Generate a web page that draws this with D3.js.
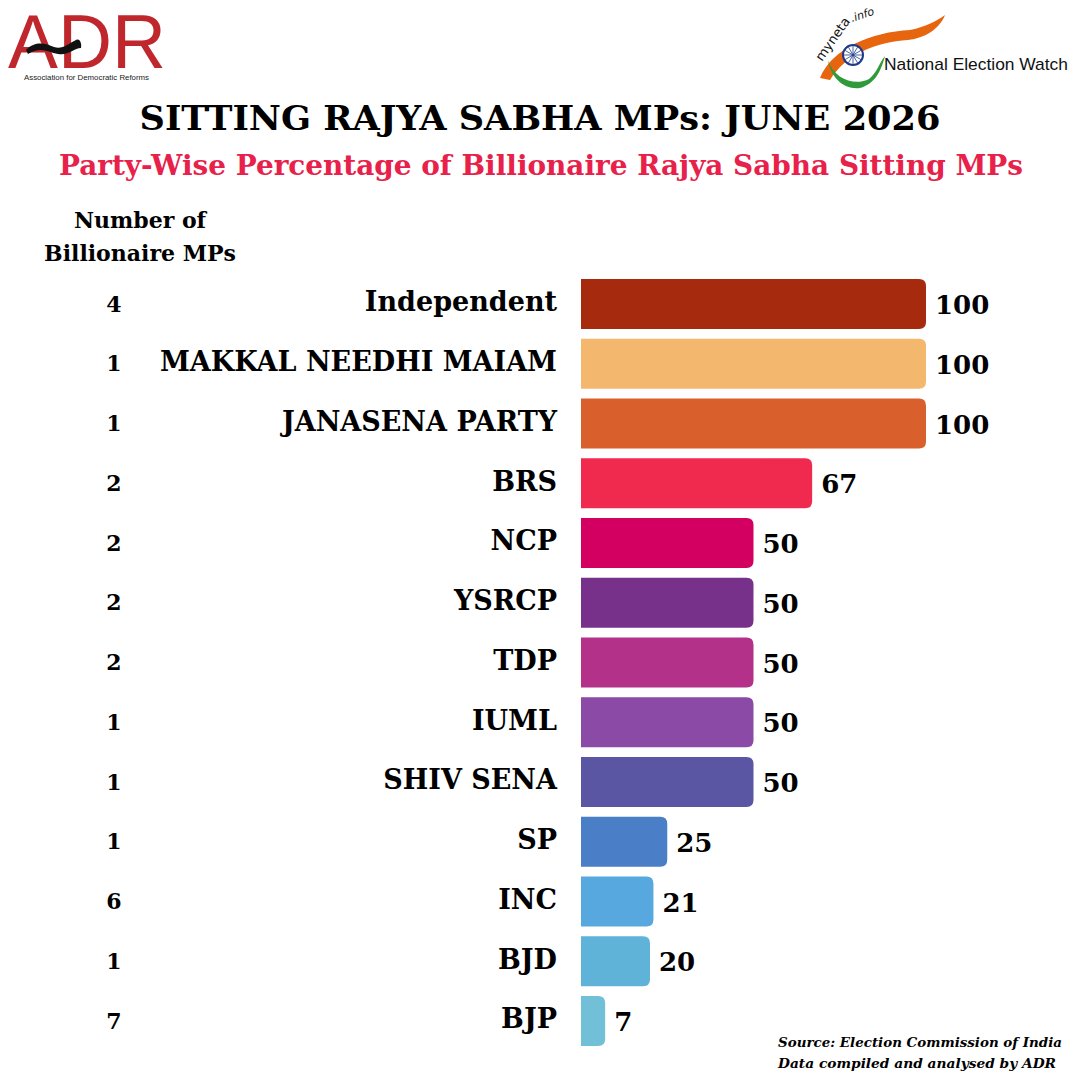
<!DOCTYPE html>
<html><head><meta charset="utf-8">
<script src="https://cdn.jsdelivr.net/npm/d3@7"></script>
<style>html,body{margin:0;padding:0;background:#fff;}svg{display:block;}</style>
</head><body>
<script>
const parties = ["Independent","MAKKAL NEEDHI MAIAM","JANASENA PARTY","BRS","NCP","YSRCP","TDP","IUML","SHIV SENA","SP","INC","BJD","BJP"];
const percentages = [100,100,100,67,50,50,50,50,50,25,21,20,7];
const billionaireCounts = [4,1,1,2,2,2,2,1,1,1,6,1,7];
const barColors = ["#a52a0e","#f3b86e","#d9602c","#f0294f","#d30062","#78318a","#b4318a","#8b4aa5","#5a56a4","#4a7ec6","#56a8de","#5fb3d9","#72c0d8"];

const W=1080,H=1080;
const svg=d3.select("body").append("svg").attr("width",W).attr("height",H);
svg.append("rect").attr("width",W).attr("height",H).attr("fill","#fff");
const serif="'DejaVu Serif',Georgia,serif";

// ADR logo
const adr=svg.append("g");
adr.append("text").attr("x",8).attr("y",68).attr("font-family","'Liberation Sans',Arial,sans-serif")
  .attr("font-size",76).attr("fill","#c0272d").attr("textLength",158).attr("lengthAdjust","spacingAndGlyphs").text("ADR");
adr.append("path").attr("d","M26,50 C36,40 46,44 54,47 C62,50 68,44 76,40 C80,38 82,44 81,48 C74,48 68,56 58,54 C48,52 40,46 28,54 Z").attr("fill","#111");
adr.append("text").attr("x",24).attr("y",80).attr("font-family","'Liberation Sans',Arial,sans-serif")
  .attr("font-size",7.5).attr("fill","#222").attr("textLength",125).attr("lengthAdjust","spacingAndGlyphs").text("Association for Democratic Reforms");

// NEW logo
const nw=svg.append("g");
nw.append("path").attr("d","M820,78 C832,48 872,32 910,30 C926,27 938,20 945,15 C940,28 926,38 908,40 C876,42 846,54 830,80 Z").attr("fill","#e8650f");
nw.append("path").attr("d","M828,60 C834,80 856,86 869,79 C877,73 879,63 885,56 C881,71 875,84 860,88 C844,90 831,78 828,60 Z").attr("fill","#2e9a3a");
nw.append("circle").attr("cx",853).attr("cy",55).attr("r",10).attr("fill","#fff").attr("stroke","#1d3a8a").attr("stroke-width",2);
for(let i=0;i<12;i++){const a=i*Math.PI/6;nw.append("line").attr("x1",853).attr("y1",55).attr("x2",853+9*Math.cos(a)).attr("y2",55+9*Math.sin(a)).attr("stroke","#1d3a8a").attr("stroke-width",0.8);}
nw.append("text").attr("transform","translate(822,62) rotate(-55)").attr("font-family","'DejaVu Sans',sans-serif").attr("font-size",13).attr("fill","#111").text("myneta");
nw.append("text").attr("transform","translate(852,22) rotate(-18)").attr("font-family","'DejaVu Sans',sans-serif").attr("font-style","italic").attr("font-size",11).attr("fill","#111").text(".info");
nw.append("text").attr("x",884).attr("y",70).attr("font-family","'Liberation Sans',sans-serif").attr("font-size",17).attr("fill","#111")
  .attr("textLength",184).attr("lengthAdjust","spacingAndGlyphs").text("National Election Watch");

// Titles
svg.append("text").attr("x",540).attr("y",130).attr("text-anchor","middle").attr("font-family",serif).attr("font-weight","bold")
  .attr("font-size",33).attr("fill","#000").attr("textLength",801).attr("lengthAdjust","spacingAndGlyphs").text("SITTING RAJYA SABHA MPs: JUNE 2026");
svg.append("text").attr("x",541).attr("y",175).attr("text-anchor","middle").attr("font-family",serif).attr("font-weight","bold")
  .attr("font-size",27).attr("fill","#e8214a").attr("textLength",964).attr("lengthAdjust","spacingAndGlyphs").text("Party-Wise Percentage of Billionaire Rajya Sabha Sitting MPs");

svg.append("text").attr("x",140).attr("y",228).attr("text-anchor","middle").attr("font-family",serif).attr("font-weight","bold")
  .attr("font-size",22).attr("fill","#000").text("Number of");
svg.append("text").attr("x",140).attr("y",261).attr("text-anchor","middle").attr("font-family",serif).attr("font-weight","bold")
  .attr("font-size",22).attr("fill","#000").text("Billionaire MPs");

// Scales
const x=d3.scaleLinear().domain([0,100]).range([581,926]);
const y=d3.scaleBand().domain(parties).range([279,1046]).paddingInner(0.163).paddingOuter(0);
const bh=y.bandwidth();
const r=7;
function barPath(x0,x1,y0,h){const w=x1-x0;const rr=Math.min(r,w/2);
  return `M${x0},${y0} H${x1-rr} Q${x1},${y0} ${x1},${y0+rr} V${y0+h-rr} Q${x1},${y0+h} ${x1-rr},${y0+h} H${x0} Z`;}

const g=svg.append("g");
parties.forEach((p,i)=>{
  const y0=y(p), cy=y0+bh/2;
  g.append("path").attr("d",barPath(x(0),x(percentages[i]),y0,bh)).attr("fill",barColors[i]);
  g.append("text").attr("x",557).attr("y",cy-2).attr("dy","0.35em").attr("text-anchor","end").attr("font-family",serif)
    .attr("font-weight","bold").attr("font-size",27).attr("fill","#000").text(p);
  g.append("text").attr("x",x(percentages[i])+9).attr("y",cy+1).attr("dy","0.35em").attr("font-family",serif)
    .attr("font-weight","bold").attr("font-size",26).attr("fill","#000").text(percentages[i]);
  g.append("text").attr("x",114).attr("y",cy).attr("dy","0.35em").attr("text-anchor","middle").attr("font-family",serif)
    .attr("font-weight","bold").attr("font-size",22).attr("fill","#000").text(billionaireCounts[i]);
});

svg.append("text").attr("x",778).attr("y",1047).attr("font-family",serif).attr("font-weight","bold").attr("font-style","italic")
  .attr("font-size",13).attr("fill","#000").attr("textLength",284).attr("lengthAdjust","spacingAndGlyphs").text("Source: Election Commission of India");
svg.append("text").attr("x",778).attr("y",1068).attr("font-family",serif).attr("font-weight","bold").attr("font-style","italic")
  .attr("font-size",13).attr("fill","#000").attr("textLength",278).attr("lengthAdjust","spacingAndGlyphs").text("Data compiled and analysed by ADR");
</script>
</body></html>
